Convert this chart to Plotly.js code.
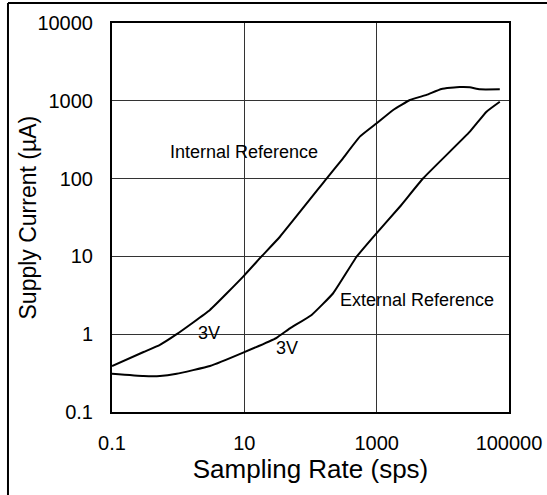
<!DOCTYPE html>
<html>
<head>
<meta charset="utf-8">
<script src="https://cdn.plot.ly/plotly-3.0.1.min.js"></script>
<style>
html,body{margin:0;padding:0;background:#fff;}
#chart{width:547px;height:495px;}
</style>
</head>
<body>
<div id="chart"></div>
<script>
// Data
const internalX = [0.1, 0.3, 0.53, 0.95, 3.02, 9.6, 18.2, 34.5, 175, 295, 557, 1000, 1775, 3180, 5680, 9550, 18000, 25600, 36200, 72600];
const internalY = [0.39, 0.59, 0.73, 1.0, 2.05, 5.5, 10, 17.9, 100, 173, 346, 514, 762, 1023, 1190, 1420, 1500, 1490, 1405, 1405];
const externalX = [0.1, 0.3, 0.53, 0.95, 3.02, 9.6, 30.7, 48.9, 104, 220, 497, 940, 2240, 5050, 25600, 45700, 72600];
const externalY = [0.31, 0.29, 0.29, 0.31, 0.39, 0.58, 0.9, 1.19, 1.77, 3.36, 9.9, 18.8, 43.5, 101, 401, 724, 972];
const xTickVals = [0.1, 10, 1000, 100000];
const xTickText = ['0.1', '10', '1000', '100000'];
const yTickVals = [0.1, 1, 10, 100, 1000, 10000];
const yTickText = ['0.1', '1', '10', '100', '1000', '10000'];
const labels = [
  {text: 'Internal Reference', x: 10, y: 220},
  {text: 'External Reference', x: 4120, y: 2.75},
  {text: '3V', x: 2.9, y: 1.04},
  {text: '3V', x: 44, y: 0.665}
];
const xTitle = 'Sampling Rate (sps)';
const yTitle = 'Supply Current (µA)';

const FONT = 'Arial, "Liberation Sans", sans-serif';
const lineStyle = {color: '#000', width: 2, shape: 'spline', smoothing: 0.35};

const traces = [
  {x: internalX, y: internalY, mode: 'lines', line: lineStyle, name: 'Internal Reference', hoverinfo: 'skip'},
  {x: externalX, y: externalY, mode: 'lines', line: lineStyle, name: 'External Reference', hoverinfo: 'skip'}
];

const layout = {
  width: 547, height: 495,
  margin: {l: 112, r: 38, t: 23, b: 83},
  paper_bgcolor: '#fff', plot_bgcolor: '#fff',
  showlegend: false,
  font: {family: FONT, color: '#000'},
  xaxis: {
    type: 'log', range: [-1, 5],
    tickvals: xTickVals, ticktext: xTickText,
    tickfont: {size: 20, family: FONT, color: '#000'},
    ticks: '', ticklabelstandoff: 12,
    showgrid: true, gridcolor: '#333', gridwidth: 1,
    showline: true, linecolor: '#000', linewidth: 2, mirror: true,
    zeroline: false,
    title: {text: xTitle, font: {size: 26, family: FONT, color: '#000'}, standoff: 6}
  },
  yaxis: {
    type: 'log', range: [-1, 4],
    tickvals: yTickVals, ticktext: yTickText,
    tickfont: {size: 20, family: FONT, color: '#000'},
    ticks: '', ticklabelstandoff: 13,
    showgrid: true, gridcolor: '#333', gridwidth: 1,
    showline: true, linecolor: '#000', linewidth: 2, mirror: true,
    zeroline: false
  },
  annotations: labels.map(l => ({
    text: l.text, x: Math.log10(l.x), y: Math.log10(l.y), xref: 'x', yref: 'y',
    showarrow: false, font: {size: 18, family: FONT, color: '#000'},
    xanchor: 'center', yanchor: 'middle'
  })).concat([{
    text: yTitle, xref: 'paper', yref: 'paper', x: -0.2116, y: 0.5,
    textangle: -90, showarrow: false, xanchor: 'center', yanchor: 'middle',
    font: {size: 23, family: FONT, color: '#000'}
  }]),
  shapes: [
    {type: 'line', xref: 'paper', yref: 'paper', x0: -0.262, x1: 1.2, y0: 1.0514, y1: 1.0514, line: {color: '#000', width: 2}},
    {type: 'line', xref: 'paper', yref: 'paper', x0: -0.262, x1: -0.262, y0: 1.0514, y1: -0.3, line: {color: '#000', width: 2}}
  ]
};

Plotly.newPlot('chart', traces, layout, {staticPlot: true, displayModeBar: false});
</script>
</body>
</html>
